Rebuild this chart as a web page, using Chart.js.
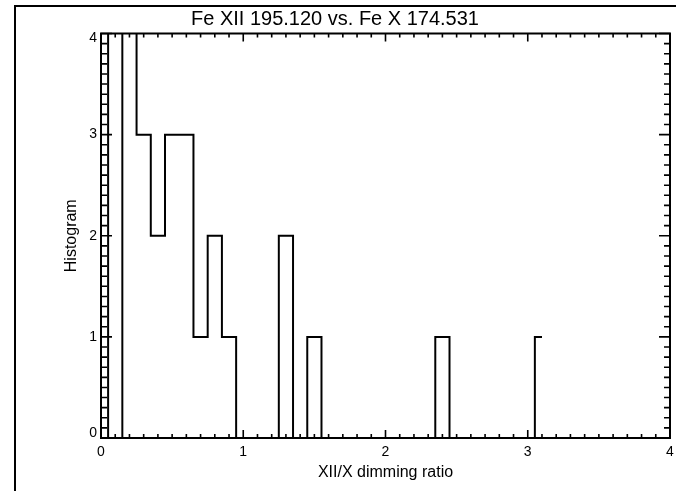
<!DOCTYPE html>
<html>
<head>
<meta charset="utf-8">
<script src="https://cdn.jsdelivr.net/npm/chart.js@4.4.1/dist/chart.umd.min.js"></script>
<style>
  html, body { margin: 0; padding: 0; background: #ffffff; }
  #wrap { width: 676px; height: 491px; position: relative; }
</style>
</head>
<body>
<div id="wrap"><canvas id="c" width="676" height="491"></canvas></div>
<script>
// ---- data ----
const chartTitle = 'Fe XII 195.120 vs. Fe X 174.531';
const xAxisTitle = 'XII/X dimming ratio';
const yAxisTitle = 'Histogram';
// histogram bin centres (dimming ratio)
const binCenters = [0.0, 0.1, 0.2, 0.3, 0.4, 0.5, 0.6, 0.7, 0.8, 0.9,
                    1.0, 1.1, 1.2, 1.3, 1.4, 1.5, 1.6, 1.7, 1.8, 1.9,
                    2.0, 2.1, 2.2, 2.3, 2.4, 2.5, 2.6, 2.7, 2.8, 2.9,
                    3.0, 3.1];
// counts per bin (values above 4 run off the top of the plot)
const counts = [5, 0, 5, 3, 2, 3, 3, 1, 2, 1,
                0, 0, 0, 2, 0, 1, 0, 0, 0, 0,
                0, 0, 0, 0, 1, 0, 0, 0, 0, 0,
                0, 1];
const xTickValues = [0, 1, 2, 3, 4];
const yTickValues = [0, 1, 2, 3, 4];

const FONT = "'Liberation Sans', Arial, Helvetica, sans-serif";

const points = binCenters.map((x, i) => ({ x: x, y: counts[i] }));

// frame + inward IDL-style axes box and ticks
const idlAxes = {
  id: 'idlAxes',
  beforeDraw(chart) {
    const ctx = chart.ctx;
    ctx.save();
    ctx.strokeStyle = '#000';
    ctx.lineWidth = 2;
    ctx.strokeRect(15, 6, 720, 560);
    ctx.restore();
  },
  afterDatasetsDraw(chart) {
    const ctx = chart.ctx;
    const a = chart.chartArea;
    const xs = chart.scales.x, ys = chart.scales.y;
    ctx.save();
    ctx.strokeStyle = '#000';
    ctx.lineWidth = 2;
    ctx.strokeRect(a.left, a.top, a.right - a.left, a.bottom - a.top);
    ctx.lineWidth = 1.6;
    ctx.beginPath();
    // x ticks (bottom and top), minor every 0.1
    for (let k = 0; k <= 40; k++) {
      const v = k / 10;
      const px = xs.getPixelForValue(v);
      const len = (k % 10 === 0) ? 8 : 4;
      ctx.moveTo(px, a.bottom); ctx.lineTo(px, a.bottom - len);
      ctx.moveTo(px, a.top); ctx.lineTo(px, a.top + len);
    }
    // y ticks (left and right), minor every 0.1
    for (let k = 0; k <= 40; k++) {
      const v = k / 10;
      const py = ys.getPixelForValue(v);
      const len = (k % 10 === 0) ? 11 : 6;
      ctx.moveTo(a.left, py); ctx.lineTo(a.left + len, py);
      ctx.moveTo(a.right, py); ctx.lineTo(a.right - len, py);
    }
    ctx.stroke();
    ctx.restore();
  }
};

new Chart(document.getElementById('c'), {
  type: 'line',
  data: {
    datasets: [{
      label: 'Histogram',
      data: points,
      borderColor: '#000',
      borderWidth: 2,
      pointRadius: 0,
      fill: false,
      stepped: 'middle',
      tension: 0
    }]
  },
  options: {
    responsive: false,
    animation: false,
    devicePixelRatio: 1,
    layout: { padding: { left: 0, right: 6, top: 0, bottom: 0 } },
    plugins: {
      legend: { display: false },
      tooltip: { enabled: false },
      title: {
        display: true,
        text: chartTitle,
        color: '#000',
        font: { family: FONT, size: 20, weight: 'normal', lineHeight: 1.2 },
        padding: { top: 7, bottom: 2.5 }
      }
    },
    scales: {
      x: {
        type: 'linear',
        min: 0, max: 4,
        afterBuildTicks(scale) { scale.ticks = xTickValues.map(v => ({ value: v })); },
        afterFit(scale) { scale.height = 53; scale.paddingRight = 0; scale.paddingLeft = 0; },
        grid: { display: false, drawTicks: false },
        border: { display: false },
        ticks: {
          color: '#000',
          padding: 6,
          maxRotation: 0,
          font: { family: FONT, size: 14 },
          callback: (v) => String(v)
        },
        title: {
          display: true,
          text: xAxisTitle,
          color: '#000',
          font: { family: FONT, size: 16 },
          padding: { top: 4, bottom: 9 }
        }
      },
      y: {
        type: 'linear',
        min: 0, max: 4,
        afterBuildTicks(scale) { scale.ticks = yTickValues.map(v => ({ value: v })); },
        afterFit(scale) { scale.width = 101; scale.paddingTop = 0; scale.paddingBottom = 0; },
        grid: { display: false, drawTicks: false },
        border: { display: false },
        ticks: {
          color: '#000',
          padding: 4,
          font: { family: FONT, size: 14, lineHeight: 10 / 14 },
          callback: (v) => v === 4 ? ['', '4'] : (v === 0 ? ['0', ''] : String(v))
        },
        title: {
          display: true,
          text: yAxisTitle,
          color: '#000',
          font: { family: FONT, size: 16 },
          padding: { top: 62, bottom: 62 }
        }
      }
    }
  },
  plugins: [idlAxes]
});
</script>
</body>
</html>
